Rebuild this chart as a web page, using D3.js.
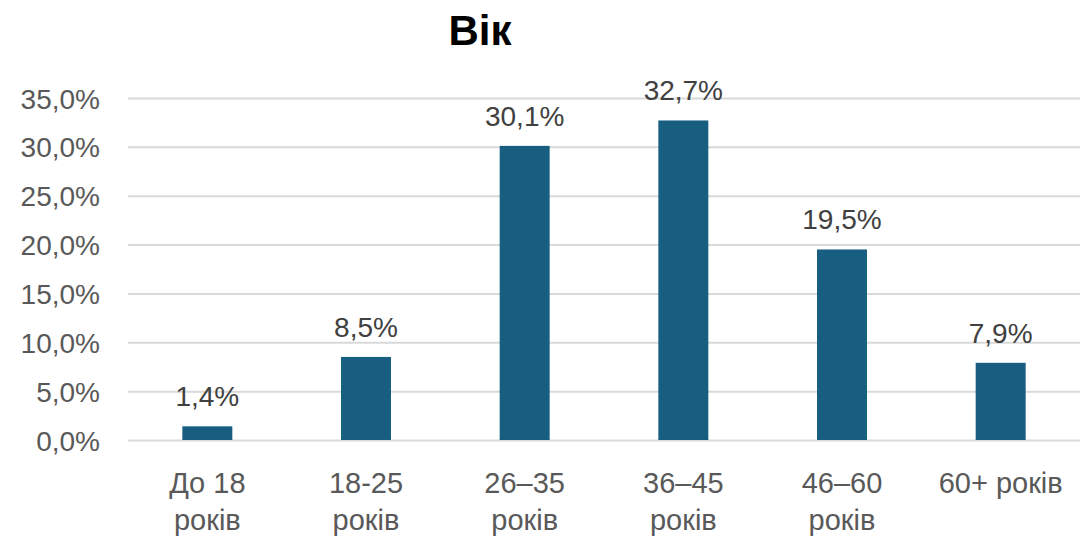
<!DOCTYPE html>
<html>
<head>
<meta charset="utf-8">
<script src="https://cdn.jsdelivr.net/npm/d3@7"></script>
<style>
  body { margin: 0; background: #fff; }
  text { font-family: 'Liberation Sans', Arial, sans-serif; }
</style>
</head>
<body>
<svg id="chart" width="1084" height="537"></svg>
<script>
// age groups, share of respondents (%)
const categories = [['До 18', 'років'], ['18-25', 'років'], ['26–35', 'років'], ['36–45', 'років'], ['46–60', 'років'], ['60+ років']]
const values = [1.4, 8.5, 30.1, 32.7, 19.5, 7.9]
const yTicks = [0, 5, 10, 15, 20, 25, 30, 35]

const m = {top: 98, right: 4, bottom: 97, left: 128}
const W = 1084, H = 537
const w = W - m.left - m.right
const h = H - m.top - m.bottom

const fmt = v => d3.format('.1f')(v).replace('.', ',') + '%'

const svg = d3.select('#chart')

svg.append('text')
  .attr('x', 480)
  .attr('y', 45)
  .attr('text-anchor', 'middle')
  .style('font-size', '42px')
  .style('font-weight', 'bold')
  .style('fill', '#000')
  .text('Вік')

const g = svg.append('g').attr('transform', 'translate(' + m.left + ',' + m.top + ')')

const x = d3.scaleBand()
  .domain(d3.range(categories.length))
  .range([0, w])
  .paddingInner(0.685)
  .paddingOuter(0.3425)

const y = d3.scaleLinear().domain([0, 35]).range([h, 0])

// gridlines + y labels
const yAxis = g.append('g')
  .call(d3.axisLeft(y).tickValues(yTicks).tickSize(-w).tickFormat(fmt).tickPadding(28))
yAxis.select('.domain').remove()
yAxis.selectAll('.tick line').attr('stroke', '#d9d9d9').attr('stroke-width', 2)
yAxis.selectAll('.tick text')
  .attr('fill', '#595959')
  .attr('dy', '0.36em')
  .style('font-size', '28px')
  .style('font-family', "'Liberation Sans', Arial, sans-serif")

// bars
g.selectAll('rect.bar')
  .data(values)
  .enter().append('rect')
  .attr('class', 'bar')
  .attr('x', (d, i) => x(i))
  .attr('width', x.bandwidth())
  .attr('y', d => y(d))
  .attr('height', d => y(0) - y(d))
  .attr('fill', '#175e80')

// data labels
g.selectAll('text.val')
  .data(values)
  .enter().append('text')
  .attr('class', 'val')
  .attr('x', (d, i) => x(i) + x.bandwidth() / 2)
  .attr('y', d => y(d) - 20)
  .attr('text-anchor', 'middle')
  .style('font-size', '28px')
  .style('fill', '#404040')
  .text(fmt)

// category labels
const cat = g.selectAll('text.cat')
  .data(categories)
  .enter().append('text')
  .attr('class', 'cat')
  .attr('text-anchor', 'middle')
  .attr('transform', (d, i) => 'translate(' + (x(i) + x.bandwidth() / 2) + ',' + (h + 53) + ')')
  .style('font-size', '29px')
  .style('fill', '#595959')

cat.selectAll('tspan')
  .data(d => d)
  .enter().append('tspan')
  .attr('x', 0)
  .attr('dy', (d, i) => i === 0 ? 0 : 37)
  .text(d => d)
</script>
</body>
</html>
